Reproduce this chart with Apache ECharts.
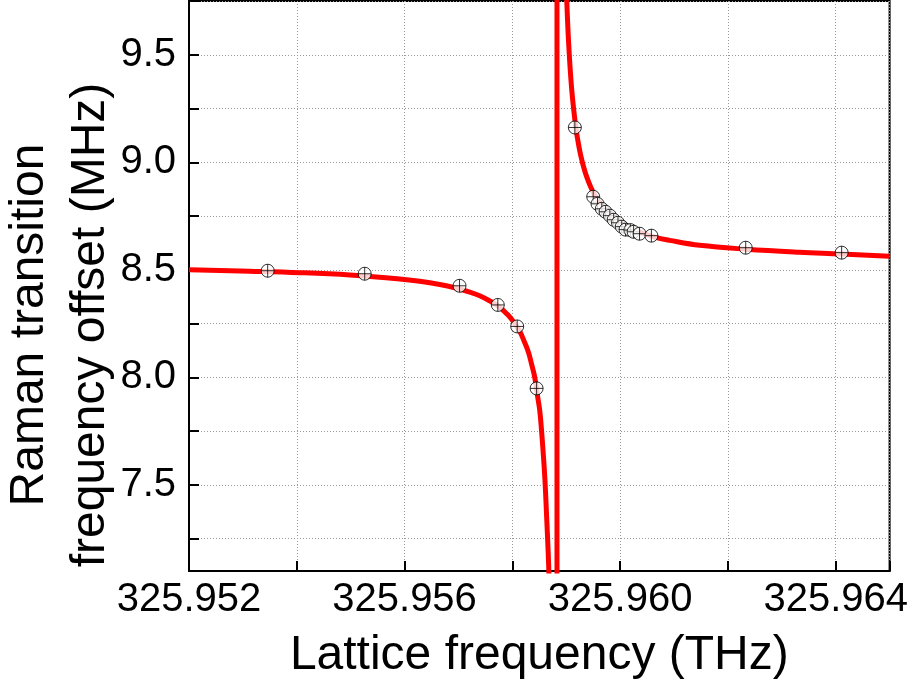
<!DOCTYPE html>
<html>
<head>
<meta charset="utf-8">
<script src="https://cdn.jsdelivr.net/npm/echarts@6/dist/echarts.min.js"></script>
<style>html,body{margin:0;padding:0;background:#fff;}#c{width:911px;height:687px;}</style>
</head>
<body>
<div id="c"></div>
<script>
// Measured data points (lattice frequency THz, Raman offset MHz)
const pointX = [325.95346, 325.95526, 325.95702, 325.95773, 325.95809, 325.95845, 325.95916,
  325.95950, 325.95958, 325.95966, 325.95973, 325.95981, 325.95988, 325.95996, 325.96003,
  325.96010, 325.96019, 325.96025, 325.96036, 325.96058, 325.96233, 325.96411];
const pointY = [8.496, 8.482, 8.426, 8.337, 8.237, 7.949, 9.162,
  8.840, 8.807, 8.784, 8.770, 8.752, 8.733, 8.719, 8.701,
  8.687, 8.685, 8.677, 8.668, 8.659, 8.603, 8.580];

// Fit curve: left branch, pole crossing, right branch
const leftX = [325.952000, 325.953126, 325.954054, 325.954982, 325.955910, 325.956281, 325.956652,
  325.956930, 325.957209, 325.957394, 325.957580, 325.957728, 325.957858, 325.957951, 325.958044,
  325.958136, 325.958229, 325.958303, 325.958359, 325.958415, 325.958470, 325.958508, 325.958545,
  325.958600, 325.958637, 325.958665, 325.958684];
const leftY = [8.501, 8.494, 8.487, 8.476, 8.458, 8.447, 8.432,
  8.417, 8.397, 8.380, 8.356, 8.333, 8.305, 8.282, 8.251,
  8.215, 8.162, 8.114, 8.059, 8.001, 7.909, 7.847, 7.742,
  7.545, 7.347, 7.185, 7.050];
const poleX = [325.958828, 325.958828];
const poleY = [6.5, 10.2];
const rightX = [325.958981, 325.959009, 325.959046, 325.959101, 325.959175, 325.959222, 325.959268,
  325.959324, 325.959380, 325.959454, 325.959528, 325.959621, 325.959714, 325.959844, 325.959992,
  325.960178, 325.960363, 325.960641, 325.960920, 325.961476, 325.962343, 325.963332, 325.964111,
  325.965000];
const rightY = [9.979, 9.756, 9.547, 9.340, 9.167, 9.092, 9.033,
  8.977, 8.932, 8.885, 8.848, 8.811, 8.782, 8.750, 8.722,
  8.696, 8.676, 8.652, 8.637, 8.614, 8.596, 8.582, 8.574,
  8.563];

const xLabels = ['325.952', '325.956', '325.960', '325.964'];
const yLabels = ['7.5', '8.0', '8.5', '9.0', '9.5'];

const zip = (a, b) => a.map((v, i) => [v, b[i]]);
const FONT = "'Liberation Sans', Arial, sans-serif";

const chart = echarts.init(document.getElementById('c'), null, {renderer: 'canvas'});
chart.setOption({
  backgroundColor: '#fff',
  animation: false,
  grid: {left: 189, top: 1, width: 701, height: 570, show: true, borderColor: '#000', borderWidth: 2, backgroundColor: 'transparent'},
  xAxis: {
    type: 'value', min: 325.952, max: 325.965, interval: 0.002,
    name: 'Lattice frequency (THz)', nameLocation: 'middle', nameGap: 61,
    nameTextStyle: {fontFamily: FONT, fontSize: 48, color: '#000'},
    axisLine: {show: true, lineStyle: {color: '#000', width: 2}},
    axisTick: {show: true, inside: true, length: 10, lineStyle: {color: '#000', width: 2}},
    axisLabel: {
      margin: 9, fontFamily: FONT, fontSize: 40, color: '#000', interval: 0,
      formatter: v => { const s = v.toFixed(3); return xLabels.indexOf(s) >= 0 ? s : ''; }
    },
    splitLine: {show: true, lineStyle: {color: '#999', width: 1, type: [1, 2]}}
  },
  yAxis: {
    type: 'value', min: 7.1, max: 9.75, minInterval: 0.25, maxInterval: 0.25, splitNumber: 10,
    axisLine: {show: true, lineStyle: {color: '#000', width: 2}},
    axisTick: {show: true, inside: true, length: 10, lineStyle: {color: '#000', width: 2}},
    axisLabel: {
      margin: 13, fontFamily: FONT, fontSize: 40, color: '#000', interval: 0,
      formatter: v => { const s = v.toFixed(1); return (yLabels.indexOf(s) >= 0 && Math.abs(v - parseFloat(s)) < 1e-6) ? s : ''; }
    },
    splitLine: {show: true, lineStyle: {color: '#999', width: 1, type: [1, 2]}}
  },
  graphic: [{
    type: 'text', x: 60, y: 325, rotation: Math.PI / 2,
    style: {
      text: 'Raman transition\nfrequency offset (MHz)',
      font: '48px ' + FONT, fill: '#000', align: 'center', verticalAlign: 'middle', lineHeight: 61
    }
  }],
  series: [
    {type: 'line', data: zip(leftX, leftY), showSymbol: false, smooth: 0.4, clip: true,
      lineStyle: {color: '#ff0000', width: 5}, z: 2},
    {type: 'line', data: zip(poleX, poleY), showSymbol: false, clip: true,
      lineStyle: {color: '#ff0000', width: 5}, z: 2},
    {type: 'line', data: zip(rightX, rightY), showSymbol: false, smooth: 0.4, clip: true,
      lineStyle: {color: '#ff0000', width: 5}, z: 2},
    {type: 'scatter', data: zip(pointX, pointY), symbol: 'path://M10,0A10,10,0,1,1,-10,0A10,10,0,1,1,10,0ZM-10,0L10,0M0,-10L0,10',
      symbolSize: 13, itemStyle: {color: '#fff', borderColor: '#000', borderWidth: 1}, z: 3}
  ]
});
</script>
</body>
</html>
